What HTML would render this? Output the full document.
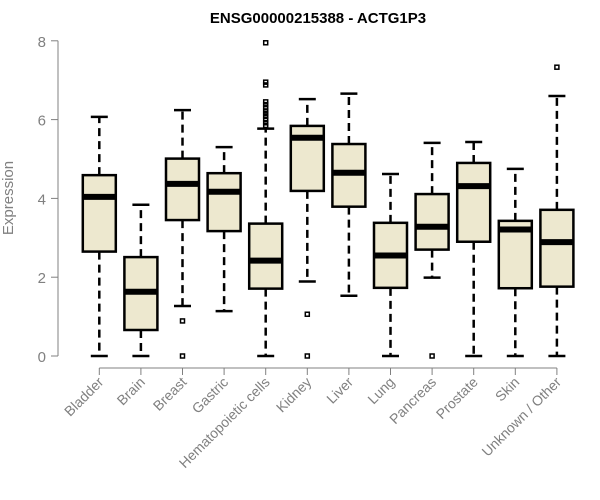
<!DOCTYPE html>
<html><head><meta charset="utf-8">
<style>
html,body{margin:0;padding:0;background:#fff;}
svg{display:block;font-family:"Liberation Sans",Arial,sans-serif;}
</style></head>
<body>
<svg id="chart" width="600" height="500" viewBox="0 0 600 500" xmlns="http://www.w3.org/2000/svg">
<text x="318" y="23" text-anchor="middle" font-size="15" font-weight="bold" fill="#000">ENSG00000215388 - ACTG1P3</text>
<text transform="translate(13,198) rotate(-90)" text-anchor="middle" font-size="15" fill="#808080">Expression</text>
<g id="axes"></g>
<g id="boxes"></g>
</svg>
<script>
const categories=["Bladder","Brain","Breast","Gastric","Hematopoietic cells","Kidney","Liver","Lung","Pancreas","Prostate","Skin","Unknown / Other"];
const whiskerLow=[0,0,1.27,1.14,0,1.89,1.53,0,1.99,0,0,0];
const q1=[2.65,0.66,3.45,3.17,1.71,4.19,3.79,1.73,2.70,2.90,1.72,1.76];
const medians=[4.04,1.63,4.37,4.17,2.42,5.54,4.65,2.55,3.28,4.31,3.21,2.89];
const q3=[4.59,2.51,5.01,4.64,3.36,5.84,5.38,3.38,4.11,4.90,3.43,3.71];
const whiskerHigh=[6.07,3.84,6.24,5.30,5.77,6.52,6.66,4.62,5.41,5.43,4.75,6.60];
const outliers=[[],[],[0.89,0],[],[7.95,6.95,6.88,6.45,6.38,6.3,6.22,6.15,6.08,6.0,5.92,5.85],[1.06,0],[],[],[0],[],[],[7.33]];
const yTicks=[0,2,4,6,8];

const NS="http://www.w3.org/2000/svg";
const y=v=>356-v*39.4;
const x=i=>99.3+i*41.6;
const ax=document.getElementById('axes'), bx=document.getElementById('boxes');
function mk(tag,attrs,parent){const e=document.createElementNS(NS,tag);for(const k in attrs)e.setAttribute(k,attrs[k]);parent.appendChild(e);return e;}

let e=mk('line',{x1:58,x2:58,y1:y(8),y2:y(0),stroke:'#808080','stroke-width':1},ax);


yTicks.forEach(t=>{
  let l=mk('line',{x1:51,x2:58,y1:y(t),y2:y(t),stroke:'#808080'},ax);
  
  
  let tx=mk('text',{x:46,y:y(t)+6,'text-anchor':'end','font-size':15,fill:'#808080'},ax);
  tx.textContent=t;
  
  
});
e=mk('line',{x1:x(0),x2:x(categories.length-1),y1:368,y2:368,stroke:'#808080'},ax);


categories.forEach((c,i)=>{
  let l=mk('line',{x1:x(i),x2:x(i),y1:368,y2:375,stroke:'#808080'},ax);
  
  
  let tx=mk('text',{transform:`translate(${x(i)+5},${383}) rotate(-45)`,'text-anchor':'end','font-size':14,fill:'#808080'},ax);
  tx.textContent=c;
  
  
});
categories.forEach((c,i)=>{
  const cx=x(i), hw=16.5, cw=8.5;
  const g=mk('g',{},bx);
  
  
  mk('line',{x1:cx,x2:cx,y1:y(q3[i]),y2:y(whiskerHigh[i]),stroke:'#000','stroke-width':2.5,'stroke-dasharray':'8,5'},g);
  mk('line',{x1:cx,x2:cx,y1:y(q1[i]),y2:y(whiskerLow[i]),stroke:'#000','stroke-width':2.5,'stroke-dasharray':'8,5'},g);
  mk('line',{x1:cx-cw,x2:cx+cw,y1:y(whiskerHigh[i]),y2:y(whiskerHigh[i]),stroke:'#000','stroke-width':2.5},g);
  mk('line',{x1:cx-cw,x2:cx+cw,y1:y(whiskerLow[i]),y2:y(whiskerLow[i]),stroke:'#000','stroke-width':2.5},g);
  mk('rect',{x:cx-hw,y:y(q3[i]),width:hw*2,height:y(q1[i])-y(q3[i]),fill:'#EDE8CF',stroke:'#000','stroke-width':2.5},g);
  mk('line',{x1:cx-hw,x2:cx+hw,y1:y(medians[i]),y2:y(medians[i]),stroke:'#000','stroke-width':6},g);
  outliers[i].forEach(v=>{
    let o=mk('rect',{x:cx-2,y:y(v)-2,width:4,height:4,fill:'none',stroke:'#000','stroke-width':1.5},g);
    
    
  });
});
</script>
</body></html>
